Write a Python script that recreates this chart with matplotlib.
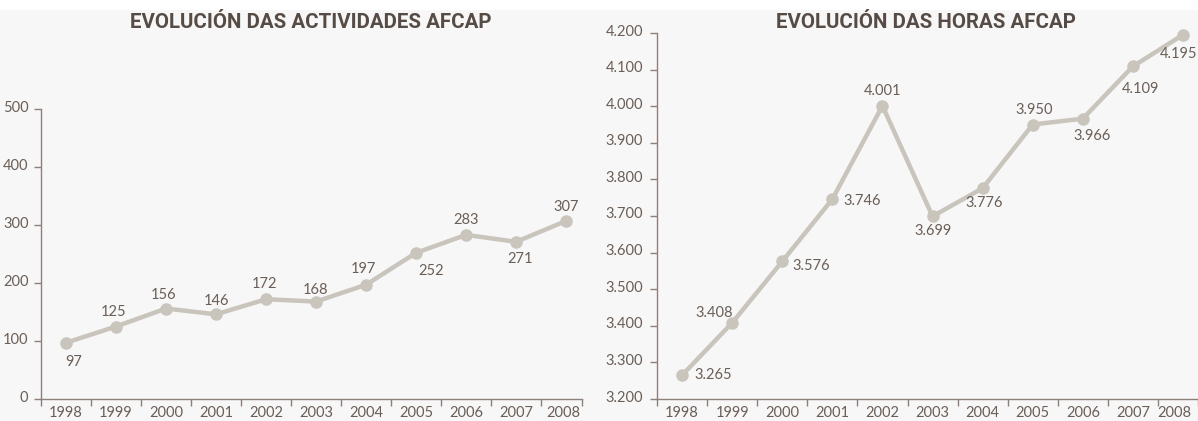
import matplotlib
matplotlib.use("Agg")
import matplotlib.pyplot as plt
import matplotlib.transforms as mtransforms
from matplotlib.patches import Rectangle

years = ["1998", "1999", "2000", "2001", "2002", "2003", "2004", "2005", "2006", "2007", "2008"]
actividades = [97, 125, 156, 146, 172, 168, 197, 252, 283, 271, 307]
horas = [3265, 3408, 3576, 3746, 4001, 3699, 3776, 3950, 3966, 4109, 4195]
act_ticks = [0, 100, 200, 300, 400, 500]
act_ticklabels = ["0", "100", "200", "300", "400", "500"]
hor_ticks = [3200, 3300, 3400, 3500, 3600, 3700, 3800, 3900, 4000, 4100, 4200]
hor_ticklabels = ["3.200", "3.300", "3.400", "3.500", "3.600", "3.700",
                  "3.800", "3.900", "4.000", "4.100", "4.200"]
title_left = "EVOLUCIÓN DAS ACTIVIDADES AFCAP"
title_right = "EVOLUCIÓN DAS HORAS AFCAP"

# label offsets in pixels (style only)
off_left = [(8, -19), (-2, 15), (-2, 14), (0, 13), (-2, 15), (-1, 12),
            (-3, 16), (15, -18), (0, 15), (4, -17), (0, 14)]
off_right = [(31, 0), (-18, 10), (29, -5), (30, -2), (0, 15), (0, -15),
             (2, -15), (1, 14), (9, -17), (8, -23), (-4, -19)]

BG = "#f7f7f7"
LINE = "#c9c4bc"
SPINE = "#8c817a"
TXT = "#6a5e57"
TITLE = "#574c45"
FONT = "Lato"
FS = 10.5

W, H = 1198, 421
fig = plt.figure(figsize=(W / 100, H / 100), dpi=100, facecolor=BG)
fig.patches.append(Rectangle((0, 1 - 10 / H), 1, 10 / H, transform=fig.transFigure,
                             facecolor="white", edgecolor="none", zorder=0))


def fmt_thousands(v):
    return f"{v:,}".replace(",", ".")


def make_axes(rect, values, ticks, ticklabels, xright, offsets, label_fmt, ylabel_pad,
              last_shift):
    ax = fig.add_axes(rect)
    ax.set_facecolor("none")
    n = len(years)
    x = list(range(n))
    ax.plot(x, values, color=LINE, lw=3.2, marker="o", ms=8,
            markerfacecolor=LINE, markeredgecolor=LINE, solid_capstyle="round",
            clip_on=False, zorder=3)
    for xi, v, (dx, dy) in zip(x, values, offsets):
        ax.annotate(label_fmt(v), (xi, v), xytext=(dx, dy), textcoords="offset pixels",
                    ha="center", va="center", fontsize=FS, color=TXT,
                    family=FONT, zorder=4)
    ax.set_xlim(-0.5, xright)
    ax.set_ylim(ticks[0], ticks[-1])
    for s in ["top", "right"]:
        ax.spines[s].set_visible(False)
    for s in ["left", "bottom"]:
        ax.spines[s].set_color(SPINE)
        ax.spines[s].set_linewidth(1.0)
    seps = [i - 0.5 for i in range(n)] + [xright]
    ax.set_xticks(seps)
    ax.set_xticklabels([""] * len(seps))
    ax.set_xticks(x, minor=True)
    ax.set_xticklabels(years, minor=True, fontsize=FS, color=TXT, family=FONT)
    ax.tick_params(axis="x", which="major", direction="out", length=5, width=1, color=SPINE)
    ax.tick_params(axis="x", which="minor", length=0, pad=5)
    labs = ax.get_xticklabels(minor=True)
    sh = mtransforms.ScaledTranslation(last_shift / 100, 0, fig.dpi_scale_trans)
    labs[-1].set_transform(labs[-1].get_transform() + sh)
    ax.set_yticks(ticks)
    ax.set_yticklabels(ticklabels, fontsize=FS, color=TXT, family=FONT)
    ax.tick_params(axis="y", direction="out", length=5, width=1, color=SPINE, pad=ylabel_pad)
    off = mtransforms.ScaledTranslation(0, 3 / 100, fig.dpi_scale_trans)
    for lab in ax.get_yticklabels():
        lab.set_transform(lab.get_transform() + off)
    return ax


left_rect = [41 / W, (H - 399) / H, (582 - 41) / W, (399 - 109) / H]
right_rect = [657 / W, (H - 399) / H, (W - 657) / W, (399 - 33) / H]

make_axes(left_rect, actividades, act_ticks, act_ticklabels, 9.5 + 41 / 50.1,
          off_left, str, 4, -3)
make_axes(right_rect, horas, hor_ticks, hor_ticklabels, 9.5 + 40 / 50.1,
          off_right, fmt_thousands, 5, -9)

fig.text(311 / W, 1 - 23 / H, title_left, ha="center", va="center", fontsize=14.8,
         fontweight="bold", color=TITLE, family="Roboto")
fig.text(926 / W, 1 - 23 / H, title_right, ha="center", va="center", fontsize=14.8,
         fontweight="bold", color=TITLE, family="Roboto")

fig.savefig("out.png", dpi=100, facecolor=BG)
